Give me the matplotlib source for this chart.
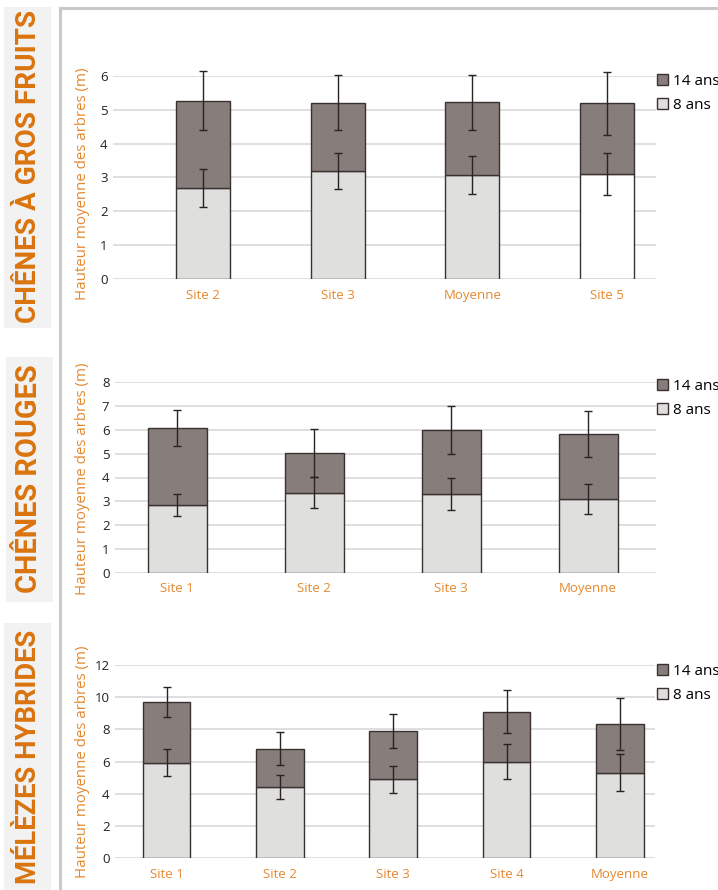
import matplotlib
matplotlib.use("Agg")
import matplotlib.pyplot as plt
from matplotlib.patches import Rectangle, Patch
from matplotlib.lines import Line2D

# ---- data -------------------------------------------------------------
series_labels = ["14 ans", "8 ans"]
y_label = "Hauteur moyenne des arbres (m)"

titles = ["CHÊNES À GROS FRUITS", "CHÊNES ROUGES", "MÉLÈZES HYBRIDES"]

# Chênes à gros fruits
cats_1 = ["Site 2", "Site 3", "Moyenne", "Site 5"]
h8_1 = [2.70, 3.18, 3.08, 3.11]
h14_1 = [5.27, 5.21, 5.22, 5.19]
err8_1 = [0.56, 0.53, 0.56, 0.62]
err14_1 = [0.88, 0.81, 0.81, 0.93]
yticks_1 = [0, 1, 2, 3, 4, 5, 6]

# Chênes rouges
cats_2 = ["Site 1", "Site 2", "Site 3", "Moyenne"]
h8_2 = [2.84, 3.36, 3.32, 3.10]
h14_2 = [6.07, 5.03, 5.98, 5.84]
err8_2 = [0.46, 0.66, 0.68, 0.62]
err14_2 = [0.76, 0.99, 1.01, 0.97]
yticks_2 = [0, 1, 2, 3, 4, 5, 6, 7, 8]

# Mélèzes hybrides
cats_3 = ["Site 1", "Site 2", "Site 3", "Site 4", "Moyenne"]
h8_3 = [5.94, 4.45, 4.91, 6.00, 5.32]
h14_3 = [9.71, 6.81, 7.91, 9.11, 8.34]
err8_3 = [0.83, 0.75, 0.83, 1.10, 1.13]
err14_3 = [0.94, 1.03, 1.04, 1.31, 1.60]
yticks_3 = [0, 2, 4, 6, 8, 10, 12]

# ---- style ------------------------------------------------------------
W, H = 718, 890
DPI = 100
C14 = "#877d7a"
C8 = "#dfdfdd"
EDGE = "#3a3131"
GRID = "#dcdcdc"
ORANGE = "#e5882f"
TITLE_ORANGE = "#da740e"
BAND = "#f2f2f2"
SEP = "#c9c9c9"
FONT = ["Open Sans", "DejaVu Sans"]
TITLE_FONT = ["Roboto", "DejaVu Sans"]

plt.rcParams["font.family"] = FONT

fig = plt.figure(figsize=(W / DPI, H / DPI), dpi=DPI)
fig.patch.set_facecolor("white")
renderer = fig.canvas.get_renderer()


def fx(x):
    return x / W


def fy(y):
    return 1 - y / H


# separators of the layout
fig.add_artist(Line2D([fx(60), fx(60)], [fy(8), fy(H)], color=SEP, lw=2.2))
fig.add_artist(Line2D([fx(60), fx(W)], [fy(8), fy(8)], color=SEP, lw=2.2))

# title bands on the left; each title is sized to span its band
bands = [(4, 7, 51, 328), (6, 357, 53, 602), (4, 623, 51, 890)]
title_centers = [(28.5, 166), (29.5, 479), (28.5, 757)]
title_lengths = [312, 228, 255]
for (x0, y0, x1, y1), (cx, cy), title, length in zip(bands, title_centers,
                                                     titles, title_lengths):
    fig.add_artist(Rectangle((fx(x0), fy(y1)), fx(x1 - x0), (y1 - y0) / H,
                             facecolor=BAND, edgecolor="none"))
    t = fig.text(fx(cx), fy(cy), title, rotation=90, ha="center", va="center",
                 color=TITLE_ORANGE, fontsize=20, fontweight="bold",
                 family=TITLE_FONT)
    ext = t.get_window_extent(renderer)
    t.set_fontsize(20 * length / ext.height)


def panel(box, xlim, ylim, yticks, cats, h8, h14, e8, e14, bar_w,
          label_xy, legend_xy, fill8=None):
    x0, y0, x1, y1 = box
    ax = fig.add_axes([fx(x0), fy(y1), fx(x1 - x0), (y1 - y0) / H])
    ax.set_xlim(*xlim)
    ax.set_ylim(*ylim)
    for s in ax.spines.values():
        s.set_visible(False)
    ax.set_yticks(yticks)
    ax.set_yticklabels([str(t) for t in yticks])
    ax.tick_params(axis="y", length=0, pad=4, labelsize=9.5, labelcolor="#222222")
    ax.set_xticks(range(len(cats)))
    ax.set_xticklabels(cats)
    ax.tick_params(axis="x", length=0, pad=7, labelsize=9.5, labelcolor=ORANGE)
    for t in yticks:
        ax.axhline(t, color=GRID, lw=1.3, zorder=0)

    xs = list(range(len(cats)))
    f8 = fill8 if fill8 is not None else [C8] * len(cats)
    seg14 = [b - a for a, b in zip(h8, h14)]
    ax.bar(xs, h8, width=bar_w, color=f8, edgecolor=EDGE, linewidth=1.0, zorder=2)
    ax.bar(xs, seg14, bottom=h8, width=bar_w, color=C14, edgecolor=EDGE,
           linewidth=1.0, zorder=2)
    ax.errorbar(xs, h8, yerr=e8, fmt="none", ecolor="#2b2222", elinewidth=1.0,
                capsize=3, capthick=1.0, zorder=3, clip_on=False)
    ax.errorbar(xs, h14, yerr=e14, fmt="none", ecolor="#2b2222", elinewidth=1.0,
                capsize=3, capthick=1.0, zorder=3, clip_on=False)

    fig.text(fx(label_xy[0]), fy(label_xy[1]), y_label, rotation=90,
             ha="center", va="center", color=ORANGE, fontsize=10.8)

    handles = [Patch(facecolor=C14, edgecolor=EDGE, linewidth=1.0),
               Patch(facecolor=C8, edgecolor=EDGE, linewidth=1.0)]
    fig.legend(handles, series_labels, loc="upper left",
               bbox_to_anchor=(fx(legend_xy[0]), fy(legend_xy[1])),
               frameon=False, fontsize=11, borderpad=0, borderaxespad=0,
               handlelength=0.75, handleheight=0.75, handletextpad=0.3,
               labelspacing=0.6)
    return ax


panel((113, 76, 656, 279), (-0.668, 3.363), (0, 6), yticks_1, cats_1,
      h8_1, h14_1, err8_1, err14_1, 0.40, (82.5, 184), (657, 74),
      fill8=[C8, C8, C8, "white"])
panel((115, 382.3, 656, 572.7), (-0.453, 3.496), (0, 8), yticks_2, cats_2,
      h8_2, h14_2, err8_2, err14_2, 0.43, (82.5, 479), (657, 379))
panel((115, 665, 655, 858.3), (-0.456, 4.31), (0, 12), yticks_3, cats_3,
      h8_3, h14_3, err8_3, err14_3, 0.42, (82, 762), (657, 664))

fig.savefig("out.png", dpi=DPI)
